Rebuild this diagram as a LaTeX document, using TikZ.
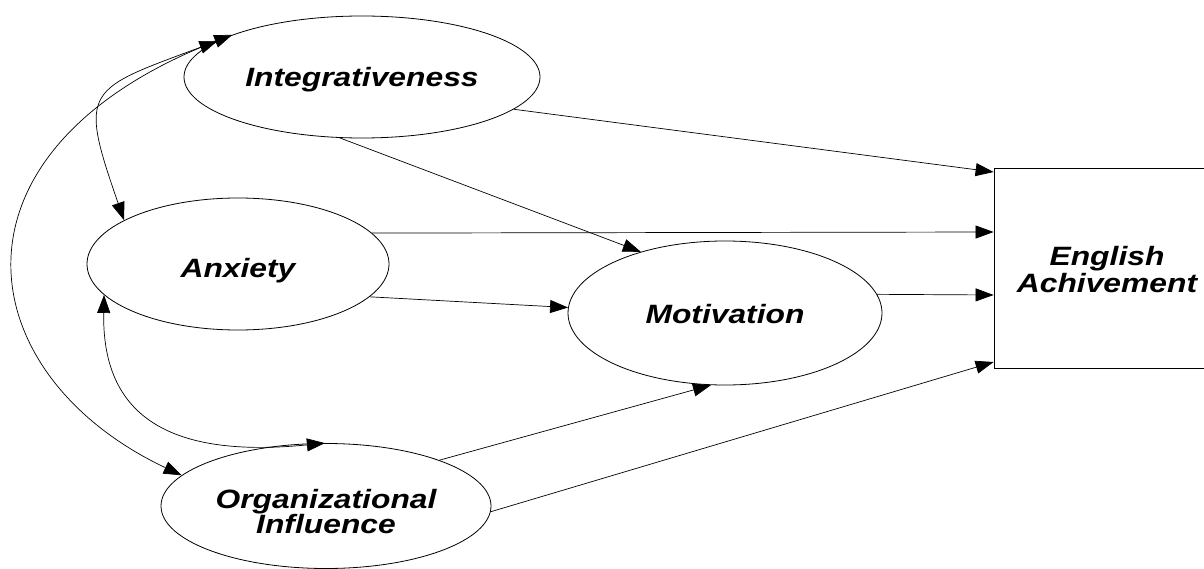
\documentclass[tikz,border=0pt]{standalone}
\usepackage{fontspec}
\newfontfamily\lblfont[FakeStretch=1.2]{Liberation Sans}
\usetikzlibrary{shapes.geometric,arrows.meta}
\begin{document}
\begin{tikzpicture}[x=1pt,y=-1pt,
  latent/.style={ellipse, draw, line width=0.8pt, inner sep=0pt, align=center,
    font={\lblfont\bfseries\itshape\fontsize{26.5pt}{25pt}\selectfont}},
  observed/.style={rectangle, draw, line width=0.8pt, inner sep=0pt, align=center,
    font={\lblfont\bfseries\itshape\fontsize{26.5pt}{27pt}\selectfont}},
  causal/.style={-{Triangle[length=18pt,width=13pt]}, line width=0.7pt},
  corr/.style={{Triangle[length=18pt,width=13pt]}-{Triangle[length=18pt,width=13pt]}, line width=0.7pt}]
\clip (0,0) rectangle (1204,569);

% latent constructs
\node[latent, minimum width=356pt, minimum height=122pt, text height=25.6pt, text depth=5.6pt]
  (integ) at (362,77) {Integrativeness};
\node[latent, minimum width=302pt, minimum height=132pt, text height=31.6pt, text depth=5.6pt]
  (anx) at (238,264) {Anxiety};
\node[latent, minimum width=314pt, minimum height=144pt, text height=21pt, text depth=0pt]
  (motiv) at (725,313) {Motivation};
\node[latent, minimum width=330pt, minimum height=125pt]
  (org) at (326,506) {\rule{0pt}{30.5pt}Organizational\\Influence};
% observed outcome
\node[observed, minimum width=226pt, minimum height=200pt]
  (ach) at (1107,268) {\rule{0pt}{23pt}English\\Achivement};

% direct paths
\draw[causal] (integ.-12) -- ([yshift=96pt]ach.west);
\draw[causal] (integ.-110) -- (motiv.144);
\draw[causal] (anx.13) -- ([yshift=36pt]ach.west);
\draw[causal] (anx.-14) -- (motiv.178);
\draw[causal] (motiv.7) -- ([yshift=-27pt]ach.west);
\draw[causal] (org.22) -- (motiv.-101);
\draw[causal] (org.-2) -- ([yshift=-94pt]ach.west);

% correlations among exogenous constructs
\draw[corr] (org.168) .. controls +(-212,-100) and +(-300,117) .. (integ.162);
\draw[corr] (anx.159) .. controls +(-46,-132) and +(-132,49) .. (integ.166);
\draw[corr] (anx.-167) .. controls +(-2,110) and +(-170,17) .. (org.91);
\end{tikzpicture}
\end{document}
